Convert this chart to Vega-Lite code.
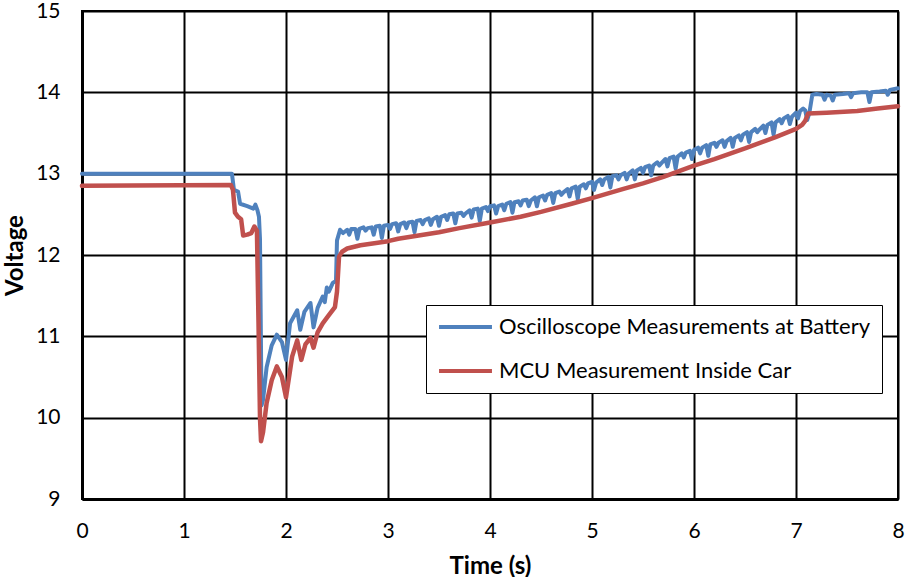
{
  "$schema": "https://vega.github.io/schema/vega-lite/v6.json",
  "width": 816,
  "height": 488,
  "autosize": {"type": "none"},
  "padding": {"left": 82, "top": 11, "right": 7, "bottom": 78},
  "background": "white",
  "config": {
    "view": {"stroke": "black", "strokeWidth": 2},
    "font": "Lato",
    "axis": {
      "grid": true, "gridColor": "black", "gridWidth": 2, "gridOpacity": 1,
      "domainColor": "black", "domainWidth": 3, "ticks": false,
      "labelFont": "Lato", "labelFontSize": 21, "labelColor": "black",
      "titleFont": "Lato", "titleFontSize": 24, "titleFontWeight": "bold", "titleColor": "black"
    }
  },
  "datasets": {
    "osc": [
      {"t":0,"v":13.0},{"t":1.47,"v":13.0},{"t":1.49,"v":12.8},{"t":1.53,"v":12.78},{"t":1.55,"v":12.63},{"t":1.62,"v":12.6},{"t":1.68,"v":12.57},{"t":1.7,"v":12.62},{"t":1.72,"v":12.55},{"t":1.735,"v":12.47},{"t":1.745,"v":12.2},{"t":1.76,"v":10.15},{"t":1.775,"v":10.22},{"t":1.81,"v":10.62},{"t":1.86,"v":10.89},{"t":1.91,"v":11.02},{"t":1.96,"v":10.93},{"t":2.0,"v":10.71},{"t":2.04,"v":11.16},{"t":2.11,"v":11.32},{"t":2.14,"v":11.08},{"t":2.18,"v":11.3},{"t":2.24,"v":11.41},{"t":2.27,"v":11.11},{"t":2.31,"v":11.35},{"t":2.36,"v":11.49},{"t":2.38,"v":11.42},{"t":2.4,"v":11.6},{"t":2.42,"v":11.55},{"t":2.46,"v":11.66},{"t":2.49,"v":11.68},{"t":2.5,"v":12.18},{"t":2.53,"v":12.31},{"t":2.56,"v":12.27},
      {"t":2.6,"v":12.31},{"t":2.62,"v":12.25},{"t":2.64,"v":12.32},
      {"t":2.68,"v":12.32},{"t":2.7,"v":12.2},{"t":2.72,"v":12.32},
      {"t":2.76,"v":12.34},{"t":2.78,"v":12.3},{"t":2.8,"v":12.33},
      {"t":2.84,"v":12.34},{"t":2.86,"v":12.25},{"t":2.88,"v":12.35},
      {"t":2.92,"v":12.36},{"t":2.94,"v":12.21},{"t":2.96,"v":12.36},
      {"t":3.0,"v":12.37},{"t":3.02,"v":12.32},{"t":3.04,"v":12.38},
      {"t":3.08,"v":12.39},{"t":3.1,"v":12.29},{"t":3.12,"v":12.38},
      {"t":3.16,"v":12.4},{"t":3.18,"v":12.33},{"t":3.2,"v":12.4},
      {"t":3.24,"v":12.41},{"t":3.26,"v":12.28},{"t":3.28,"v":12.42},
      {"t":3.32,"v":12.43},{"t":3.34,"v":12.38},{"t":3.36,"v":12.43},
      {"t":3.4,"v":12.45},{"t":3.42,"v":12.37},{"t":3.44,"v":12.44},
      {"t":3.48,"v":12.47},{"t":3.5,"v":12.36},{"t":3.52,"v":12.47},
      {"t":3.56,"v":12.49},{"t":3.58,"v":12.43},{"t":3.6,"v":12.5},
      {"t":3.64,"v":12.51},{"t":3.66,"v":12.39},{"t":3.68,"v":12.51},
      {"t":3.72,"v":12.52},{"t":3.74,"v":12.48},{"t":3.76,"v":12.51},
      {"t":3.8,"v":12.55},{"t":3.82,"v":12.46},{"t":3.84,"v":12.56},
      {"t":3.88,"v":12.57},{"t":3.9,"v":12.42},{"t":3.92,"v":12.57},
      {"t":3.96,"v":12.59},{"t":3.98,"v":12.54},{"t":4.0,"v":12.6},
      {"t":4.04,"v":12.61},{"t":4.06,"v":12.51},{"t":4.08,"v":12.6},
      {"t":4.12,"v":12.62},{"t":4.14,"v":12.55},{"t":4.16,"v":12.63},
      {"t":4.2,"v":12.65},{"t":4.22,"v":12.52},{"t":4.24,"v":12.65},
      {"t":4.28,"v":12.66},{"t":4.3,"v":12.61},{"t":4.32,"v":12.67},
      {"t":4.36,"v":12.68},{"t":4.38,"v":12.6},{"t":4.4,"v":12.67},
      {"t":4.44,"v":12.71},{"t":4.46,"v":12.6},{"t":4.48,"v":12.71},
      {"t":4.52,"v":12.73},{"t":4.54,"v":12.67},{"t":4.56,"v":12.74},
      {"t":4.6,"v":12.76},{"t":4.62,"v":12.64},{"t":4.64,"v":12.76},
      {"t":4.68,"v":12.78},{"t":4.7,"v":12.74},{"t":4.72,"v":12.77},
      {"t":4.76,"v":12.81},{"t":4.78,"v":12.72},{"t":4.8,"v":12.82},
      {"t":4.84,"v":12.84},{"t":4.86,"v":12.69},{"t":4.88,"v":12.84},
      {"t":4.92,"v":12.87},{"t":4.94,"v":12.82},{"t":4.96,"v":12.88},
      {"t":5.0,"v":12.9},{"t":5.02,"v":12.8},{"t":5.04,"v":12.89},
      {"t":5.08,"v":12.93},{"t":5.1,"v":12.86},{"t":5.12,"v":12.93},
      {"t":5.16,"v":12.96},{"t":5.18,"v":12.83},{"t":5.2,"v":12.97},
      {"t":5.24,"v":12.98},{"t":5.26,"v":12.93},{"t":5.28,"v":12.98},
      {"t":5.32,"v":13.01},{"t":5.34,"v":12.93},{"t":5.36,"v":13.0},
      {"t":5.4,"v":13.04},{"t":5.42,"v":12.93},{"t":5.44,"v":13.04},
      {"t":5.48,"v":13.07},{"t":5.5,"v":13.01},{"t":5.52,"v":13.08},
      {"t":5.56,"v":13.1},{"t":5.58,"v":12.98},{"t":5.6,"v":13.1},
      {"t":5.64,"v":13.14},{"t":5.66,"v":13.1},{"t":5.68,"v":13.13},
      {"t":5.72,"v":13.18},{"t":5.74,"v":13.09},{"t":5.76,"v":13.19},
      {"t":5.8,"v":13.21},{"t":5.82,"v":13.06},{"t":5.84,"v":13.21},
      {"t":5.88,"v":13.25},{"t":5.9,"v":13.2},{"t":5.92,"v":13.26},
      {"t":5.96,"v":13.28},{"t":5.98,"v":13.18},{"t":6.0,"v":13.29},
      {"t":6.04,"v":13.32},{"t":6.06,"v":13.25},{"t":6.08,"v":13.32},
      {"t":6.12,"v":13.35},{"t":6.14,"v":13.22},{"t":6.16,"v":13.36},
      {"t":6.2,"v":13.38},{"t":6.22,"v":13.33},{"t":6.24,"v":13.38},
      {"t":6.28,"v":13.41},{"t":6.3,"v":13.33},{"t":6.32,"v":13.4},
      {"t":6.36,"v":13.44},{"t":6.38,"v":13.33},{"t":6.4,"v":13.44},
      {"t":6.44,"v":13.47},{"t":6.46,"v":13.41},{"t":6.48,"v":13.48},
      {"t":6.52,"v":13.51},{"t":6.54,"v":13.39},{"t":6.56,"v":13.51},
      {"t":6.6,"v":13.55},{"t":6.62,"v":13.51},{"t":6.64,"v":13.54},
      {"t":6.68,"v":13.59},{"t":6.7,"v":13.5},{"t":6.72,"v":13.6},
      {"t":6.76,"v":13.63},{"t":6.78,"v":13.48},{"t":6.8,"v":13.63},
      {"t":6.84,"v":13.67},{"t":6.86,"v":13.62},{"t":6.88,"v":13.68},
      {"t":6.92,"v":13.71},{"t":6.94,"v":13.61},{"t":6.96,"v":13.7},
      {"t":7.0,"v":13.75},{"t":7.02,"v":13.68},{"t":7.04,"v":13.77},
      {"t":7.07,"v":13.8},{"t":7.09,"v":13.78},{"t":7.11,"v":13.66},{"t":7.13,"v":13.74},{"t":7.16,"v":13.97},
      {"t":7.2,"v":13.98},{"t":7.26,"v":13.97},{"t":7.28,"v":13.91},{"t":7.3,"v":13.97},{"t":7.34,"v":13.96},{"t":7.36,"v":13.9},{"t":7.38,"v":13.97},{"t":7.46,"v":13.98},{"t":7.52,"v":13.99},{"t":7.54,"v":13.94},{"t":7.56,"v":13.99},{"t":7.64,"v":14.0},{"t":7.7,"v":14.0},{"t":7.72,"v":13.88},{"t":7.74,"v":14.0},{"t":7.82,"v":14.01},{"t":7.88,"v":14.02},{"t":7.9,"v":13.97},{"t":7.92,"v":14.03},{"t":8.0,"v":14.05}
    ],
    "mcu": [
      {"t":0,"v":12.85},{"t":1.46,"v":12.86},{"t":1.48,"v":12.8},{"t":1.5,"v":12.52},{"t":1.53,"v":12.47},{"t":1.56,"v":12.44},{"t":1.58,"v":12.24},{"t":1.62,"v":12.25},{"t":1.66,"v":12.27},{"t":1.69,"v":12.35},{"t":1.715,"v":12.3},{"t":1.73,"v":11.2},{"t":1.745,"v":10.0},{"t":1.755,"v":9.71},{"t":1.775,"v":9.82},{"t":1.81,"v":10.18},{"t":1.86,"v":10.46},{"t":1.91,"v":10.63},{"t":1.96,"v":10.5},{"t":2.0,"v":10.25},{"t":2.06,"v":10.75},{"t":2.11,"v":10.95},{"t":2.15,"v":10.71},{"t":2.19,"v":10.9},{"t":2.24,"v":10.98},{"t":2.27,"v":10.86},{"t":2.31,"v":11.05},{"t":2.36,"v":11.16},{"t":2.42,"v":11.26},{"t":2.48,"v":11.36},{"t":2.5,"v":11.55},{"t":2.52,"v":11.98},{"t":2.55,"v":12.04},{"t":2.6,"v":12.08},{"t":2.73,"v":12.12},{"t":2.9,"v":12.15},{"t":3.0,"v":12.17},{"t":3.1,"v":12.2},{"t":3.3,"v":12.24},{"t":3.5,"v":12.28},{"t":3.7,"v":12.33},{"t":4.0,"v":12.4},{"t":4.3,"v":12.47},{"t":4.5,"v":12.53},{"t":4.8,"v":12.63},{"t":5.0,"v":12.7},{"t":5.3,"v":12.81},{"t":5.5,"v":12.88},{"t":5.7,"v":12.96},{"t":6.0,"v":13.1},{"t":6.2,"v":13.18},{"t":6.5,"v":13.31},{"t":6.8,"v":13.45},{"t":7.0,"v":13.55},{"t":7.06,"v":13.6},{"t":7.09,"v":13.65},{"t":7.12,"v":13.74},{"t":7.3,"v":13.75},{"t":7.6,"v":13.77},{"t":7.8,"v":13.8},{"t":8.0,"v":13.83}
    ]
  },
  "encoding": {
    "x": {"field": "t", "type": "quantitative", "title": "Time (s)",
      "scale": {"domain": [0, 8], "nice": false},
      "axis": {"values": [0,1,2,3,4,5,6,7,8], "labelPadding": 21, "titlePadding": 13, "labelFlush": false}},
    "y": {"field": "v", "type": "quantitative", "title": "Voltage",
      "scale": {"domain": [9, 15], "nice": false, "zero": false},
      "axis": {"values": [9,10,11,12,13,14,15], "labelPadding": 22, "titlePadding": 8, "labelFlush": false}}
  },
  "layer": [
    {
      "data": {"name": "osc"},
      "mark": {"type": "line", "strokeWidth": 4, "strokeJoin": "round", "strokeCap": "round"},
      "encoding": {
        "color": {"datum": "Oscilloscope Measurements at Battery", "type": "nominal",
          "scale": {"domain": ["Oscilloscope Measurements at Battery", "MCU Measurement Inside Car"], "range": ["#4F81BD", "#C0504D"]},
          "legend": {"orient": "none", "legendX": 344, "legendY": 294, "direction": "vertical", "title": null,
            "fillColor": "white", "strokeColor": "black", "padding": 11,
            "symbolType": "stroke", "symbolSize": 2800, "symbolStrokeWidth": 4,
            "clipHeight": 22,
            "labelFont": "Lato", "labelFontSize": 22, "labelColor": "black", "labelOffset": 5, "rowPadding": 22, "labelLimit": 500}}
      }
    },
    {
      "data": {"name": "mcu"},
      "mark": {"type": "line", "strokeWidth": 4.5, "strokeJoin": "round", "strokeCap": "round"},
      "encoding": {
        "color": {"datum": "MCU Measurement Inside Car", "type": "nominal"}
      }
    }
  ]
}
